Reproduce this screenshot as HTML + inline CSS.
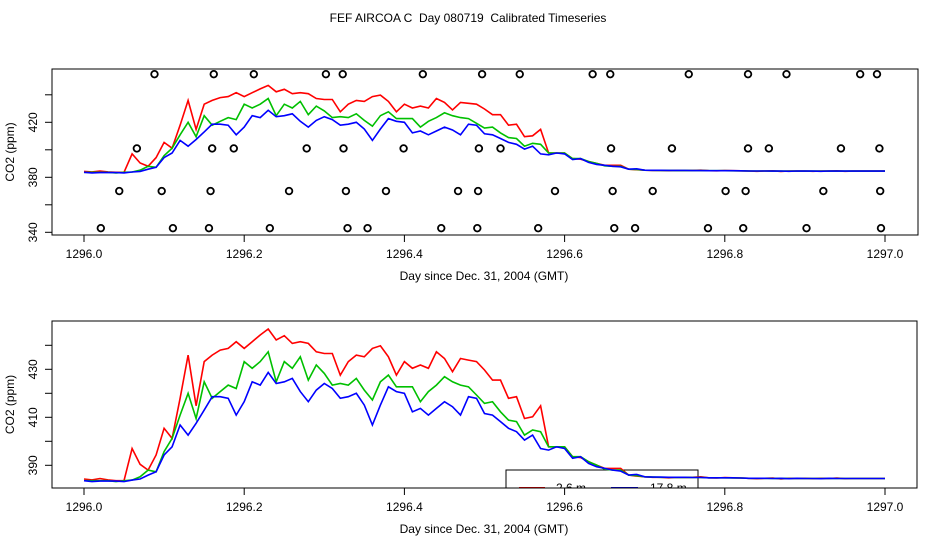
<!DOCTYPE html>
<html><head><meta charset="utf-8"><style>
html,body{margin:0;padding:0;background:#fff;}
svg{display:block;font-family:"Liberation Sans",Arial,sans-serif;}
</style></head><body>
<svg id="chart" width="936" height="540" viewBox="0 0 936 540" xmlns="http://www.w3.org/2000/svg">
<text x="468" y="22" font-size="12" text-anchor="middle" xml:space="preserve">FEF AIRCOA C  Day 080719  Calibrated Timeseries</text>
</svg>
<script>
const xTicks=[1296.0,1296.2,1296.4,1296.6,1296.8,1297.0];
const xTickLabels=["1296.0","1296.2","1296.4","1296.6","1296.8","1297.0"];
const tStart=1296.0, tStep=0.01;
const red=[384.3,383.9,384.5,383.9,383.6,383.6,397.0,390.4,388.0,394.3,405.4,401.2,417.9,435.9,414.8,433.2,435.9,438.0,438.7,441.5,438.7,441.5,444.3,446.8,442.2,444.0,440.8,441.5,440.8,437.3,436.6,436.6,427.6,433.2,435.9,435.2,438.7,439.8,435.2,427.6,433.2,430.4,431.8,430.4,437.3,434.5,429.0,434.5,433.85,433.2,429.7,425.5,425.5,417.9,418.6,409.5,410.2,414.8,397.7,397.7,397.7,393.6,393.2,391.5,390.1,388.7,388.7,388.7,385.9,385.5,385.2,385.0,385.0,384.8,385.0,384.9,385.0,385.2,384.8,384.7,384.9,384.8,384.7,384.6,384.4,384.6,384.7,384.3,384.6,384.5,384.6,384.4,384.6,384.5,384.7,384.4,384.5,384.5,384.5,384.5,384.5];
const green=[383.6,383.6,383.6,383.6,383.2,383.6,383.85,385.2,388.0,387.3,395.7,401.2,410.9,420.0,409.5,424.8,417.9,420.7,423.4,422.0,433.2,430.4,433.2,437.3,424.8,433.2,430.4,435.2,425.5,431.8,428.3,423.4,424.1,423.4,426.2,421.35,417.2,424.8,427.6,422.7,422.7,422.7,416.5,420.7,423.4,426.9,424.8,423.4,422.7,419.3,415.8,416.5,412.3,408.85,408.2,402.6,404.7,404.0,397.7,397.7,397.7,393.6,393.6,391.5,390.1,388.4,388.0,388.0,385.9,385.7,385.2,385.1,385.0,385.0,384.9,385.0,384.9,384.9,384.8,384.8,384.8,384.7,384.7,384.6,384.6,384.6,384.5,384.6,384.5,384.5,384.5,384.5,384.5,384.5,384.5,384.5,384.5,384.5,384.5,384.5,384.5];
const blue=[383.6,383.2,383.4,383.4,383.4,383.2,383.85,384.3,385.9,387.3,394.3,397.7,406.8,402.6,407.5,413.0,418.6,418.6,417.9,410.9,416.5,424.8,423.4,428.7,424.1,424.8,426.2,420.7,416.5,421.35,424.1,422.0,417.9,418.6,420.0,415.1,406.8,415.1,422.7,420.7,420.0,412.3,413.7,410.9,413.7,416.5,414.4,410.9,418.6,417.9,411.6,410.9,408.2,405.4,404.0,400.5,402.6,397.0,396.35,397.7,397.0,392.9,393.6,390.8,389.4,388.7,388.0,387.6,385.9,386.2,385.2,385.1,385.1,385.0,385.0,385.0,384.9,384.9,384.8,384.8,384.8,384.8,384.7,384.6,384.6,384.6,384.5,384.6,384.4,384.6,384.5,384.5,384.4,384.6,384.5,384.5,384.5,384.5,384.5,384.5,384.5];
const circT455=[1296.088,1296.162,1296.212,1296.302,1296.323,1296.423,1296.497,1296.544,1296.635,1296.657,1296.755,1296.829,1296.877,1296.969,1296.990];
const circT401=[1296.066,1296.160,1296.187,1296.278,1296.324,1296.399,1296.493,1296.520,1296.658,1296.734,1296.829,1296.855,1296.945,1296.993];
const circT370=[1296.044,1296.097,1296.158,1296.256,1296.327,1296.377,1296.467,1296.492,1296.588,1296.660,1296.710,1296.801,1296.826,1296.923,1296.994];
const circT343=[1296.021,1296.111,1296.156,1296.232,1296.329,1296.354,1296.446,1296.491,1296.567,1296.662,1296.688,1296.779,1296.823,1296.902,1296.995];
const circLevels=[455,401,370,343];
const topYTicks=[340,360,380,400,420,440];
const topYLabels=["340","","380","","420",""];
const botYTicks=[390,400,410,420,430,440];
const botYLabels=["390","","410","","430",""];
const legendLabels=["2.6 m","17.8 m"];

const NS="http://www.w3.org/2000/svg";
const svg=document.getElementById('chart');
function mk(tag,attrs,parent){const e=document.createElementNS(NS,tag);for(const k in attrs)e.setAttribute(k,attrs[k]);(parent||svg).appendChild(e);return e;}
const xs=t=>84+(t-1296.0)*801;

function panel(name,box,ys,yTicks,yLabels,drawCircles){
  const g=mk('g',{});
  
  
  const cid=name+'-clip';
  const cp=mk('clipPath',{id:cid},g);mk('rect',{x:box.x0,y:box.y0,width:box.x1-box.x0,height:box.y1-box.y0},cp);
  const plot=mk('g',{'clip-path':'url(#'+cid+')'},g);
  if(name==='bottom'){
    const lg=mk('g',{},plot);
    
    
    mk('rect',{x:506,y:470,width:192,height:40,fill:'#fff',stroke:'#000','stroke-width':'1'},lg);
    mk('line',{x1:519,y1:488,x2:545,y2:488,stroke:'#ff0000','stroke-width':'2'},lg);
    mk('line',{x1:611,y1:488,x2:638,y2:488,stroke:'#0000ff','stroke-width':'2'},lg);
    const t1=mk('text',{x:556,y:492,'font-size':'12'},lg);t1.textContent=legendLabels[0];
    
    
    const t2=mk('text',{x:650,y:492,'font-size':'12'},lg);t2.textContent=legendLabels[1];
    
    
  }
  const series=[[red,'#ff0000','red-series'],[green,'#00c000','green-series'],[blue,'#0000ff','blue-series']];
  series.forEach(([arr,col,nm])=>{
    const d=arr.map((v,i)=>(i?'L':'M')+xs(tStart+i*tStep).toFixed(1)+' '+ys(v).toFixed(1)).join(' ');
    const p=mk('path',{d:d,fill:'none',stroke:col,'stroke-width':'1.6'},plot);
    
    
  });
  if(drawCircles){
    [circT455,circT401,circT370,circT343].forEach((arr,li)=>{
      arr.forEach(t=>{
        const c=mk('circle',{cx:xs(t),cy:ys(circLevels[li]),r:3.3,fill:'none',stroke:'#000','stroke-width':'1.8'},plot);
        
        
      });
    });
  }
  const fr=mk('rect',{x:box.x0,y:box.y0,width:box.x1-box.x0,height:box.y1-box.y0,fill:'none',stroke:'#000','stroke-width':'1'},g);
  
  
  const xa=mk('g',{},g);
  
  
  mk('line',{x1:xs(xTicks[0]),y1:box.y1,x2:xs(xTicks[xTicks.length-1]),y2:box.y1,stroke:'#000'},xa);
  xTicks.forEach((t,i)=>{
    mk('line',{x1:xs(t),y1:box.y1,x2:xs(t),y2:box.y1+7,stroke:'#000'},xa);
    const tx=mk('text',{x:xs(t),y:box.y1+23,'font-size':'12','text-anchor':'middle'},xa);tx.textContent=xTickLabels[i];
  });
  const xt=mk('text',{x:484,y:box.y1+45,'font-size':'12','text-anchor':'middle'},g);xt.textContent='Day since Dec. 31, 2004 (GMT)';
  
  
  const ya=mk('g',{},g);
  
  
  mk('line',{x1:box.x0,y1:ys(yTicks[0]),x2:box.x0,y2:ys(yTicks[yTicks.length-1]),stroke:'#000'},ya);
  yTicks.forEach((v,i)=>{
    mk('line',{x1:box.x0-7,y1:ys(v),x2:box.x0,y2:ys(v),stroke:'#000'},ya);
    if(yLabels[i]){const tx=mk('text',{x:0,y:0,'font-size':'12','text-anchor':'middle',transform:'translate(37,'+ys(v)+') rotate(-90)'},ya);tx.textContent=yLabels[i];}
  });
  const yt=mk('text',{x:0,y:0,'font-size':'12','text-anchor':'middle',transform:'translate(14,'+((box.y0+box.y1)/2)+') rotate(-90)'},g);yt.textContent='CO2 (ppm)';
  
  
}
panel('top',{x0:52,x1:918,y0:69,y1:235},v=>232.3-(v-340)*1.375,topYTicks,topYLabels,true);
panel('bottom',{x0:52,x1:917,y0:321,y1:488},v=>465.3-(v-390)*2.4,botYTicks,botYLabels,false);
</script>
</body></html>
